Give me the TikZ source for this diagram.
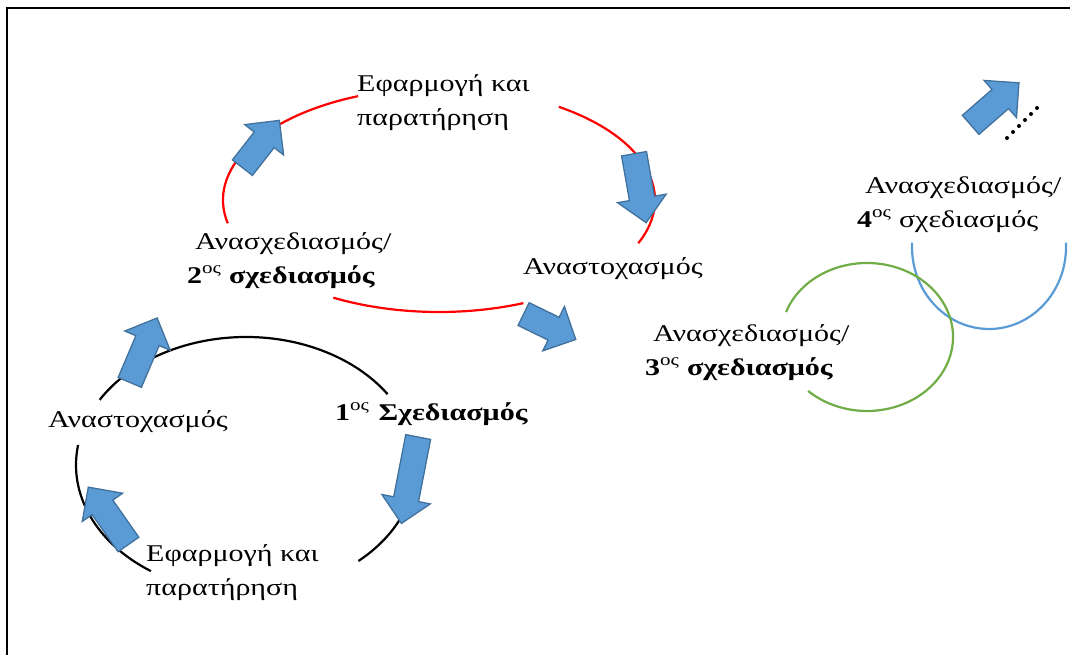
\documentclass[tikz,border=0pt]{standalone}
\usepackage{fontspec}
\setmainfont{Liberation Serif}[FakeStretch=1.25]
\usetikzlibrary{shapes.arrows,calc}

\definecolor{arrowfill}{RGB}{91,155,213}
\definecolor{arrowedge}{RGB}{65,113,156}
\definecolor{loopred}{RGB}{255,0,0}
\definecolor{loopgreen}{RGB}{112,173,71}
\definecolor{loopblue}{RGB}{91,155,213}

\begin{document}
\begin{tikzpicture}[x=1pt,y=-1pt,
  blockarrow/.style={single arrow, draw=arrowedge, fill=arrowfill, line width=1.3pt,
    inner xsep=0pt, inner ysep=12pt, minimum width=0pt,
    single arrow head extend=12pt, single arrow tip angle=90},
  txt/.style={anchor=base west, inner sep=0pt, align=left,
    font=\fontsize{24}{34}\selectfont},
  cycleline/.style={line width=2.2pt}]
\useasboundingbox (0,0) rectangle (1070,655);

% page frame (top and left edges only)
\draw[line width=2pt] (7,655) -- (7,8) -- (1070,8);

% ellipse centres
\coordinate (redc) at (439,200);
\coordinate (blackc) at (246,465);
\coordinate (greenc) at (867,337);
\coordinate (bluec) at (989,247);

% first cycle (black)
\draw[cycleline,black] (blackc) ++(210.6:170 and 128) arc[start angle=210.6, end angle=326.4, x radius=170, y radius=128];
\draw[cycleline,black] (blackc) ++(18:170 and 128) arc[start angle=18, end angle=48.6, x radius=170, y radius=128];
\draw[cycleline,black] (blackc) ++(124:170 and 128) arc[start angle=124, end angle=189, x radius=170, y radius=128];

% second cycle (red)
\draw[cycleline,loopred] (redc) ++(168:216 and 112) arc[start angle=168, end angle=248, x radius=216, y radius=112];
\draw[cycleline,loopred] (redc) ++(303.7:216 and 112) arc[start angle=303.7, end angle=382.7, x radius=216, y radius=112];
\draw[cycleline,loopred] (redc) ++(67:216 and 112) arc[start angle=67, end angle=119.3, x radius=216, y radius=112];

% third and fourth cycles
\draw[cycleline,loopblue] (bluec) ++(-3:77 and 82) arc[start angle=-3, end angle=183, x radius=77, y radius=82];
\draw[cycleline,loopgreen] (greenc) ++(199.7:86 and 74) arc[start angle=199.7, end angle=493.2, x radius=86, y radius=74];

% labels (anchored at the baseline of their last line)
\node[txt] (plan1) at (335,420) {\textbf{1}\textsuperscript{ος}\hspace{9pt}\textbf{Σχεδιασμός}};
\node[txt] (apply1) at (146,595) {Εφαρμογή και\\παρατήρηση};
\node[txt] (reflect1) at (48,427) {Αναστοχασμός};
\node[txt] (plan2) at (187,283) {\hspace{8pt}Ανασχεδιασμός/\\\textbf{2}\textsuperscript{ος} \textbf{σχεδιασμός}};
\node[txt] (apply2) at (357,126) {Εφαρμογή και\\παρατήρηση};
\node[txt] (reflect2) at (523,274) {Αναστοχασμός};
\node[txt] (plan3) at (645,375) {\hspace{8pt}Ανασχεδιασμός/\\\textbf{3}\textsuperscript{ος} \textbf{σχεδιασμός}};
\node[txt] (plan4) at (857,227) {\hspace{8pt}Ανασχεδιασμός/\\\textbf{4}\textsuperscript{ος} σχεδιασμός};

% block arrows
\node[blockarrow, rotate=-101, minimum height=88pt] (a1) at (411,474) {};
\node[blockarrow, rotate=125, minimum height=70pt] (a2) at (112,521) {};
\node[blockarrow, rotate=67, minimum height=70pt] (a3) at (141,356) {};
\node[blockarrow, rotate=52, minimum height=60pt] (a4) at (257,149) {};
\node[blockarrow, rotate=-80, minimum height=70pt] (a5) at (639,182) {};
\node[blockarrow, rotate=-26, minimum height=58pt] (a6) at (544,324) {};
\node[blockarrow, rotate=41, minimum height=64pt] (a7) at (990,108) {};

% continuation dots
\coordinate (dotsA) at (1007,138);
\coordinate (dotsB) at (1037,108);
\foreach \i in {0,...,5}
  \fill ($(dotsA)!\i/5!(dotsB)$) circle (2pt);
\end{tikzpicture}
\end{document}
